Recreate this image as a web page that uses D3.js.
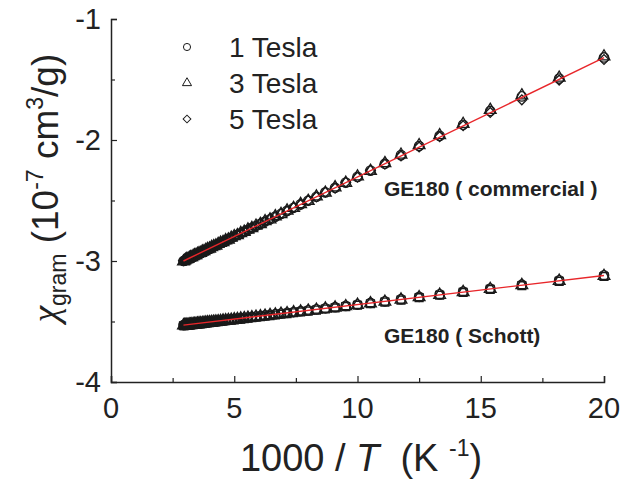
<!DOCTYPE html>
<html>
<head>
<meta charset="utf-8">
<script src="https://cdn.jsdelivr.net/npm/d3@7"></script>
<style>
  body { margin: 0; background: #fff; }
  text { font-family: "Liberation Sans", Arial, sans-serif; fill: #222; }
</style>
</head>
<body>
<div id="chart"></div>
<script>
// temperatures (K) of the measurement points, x = 1000 / T
var tempK = [340,335,330,325,320,315,310,305,300,295,290,285,280,275,270,265,260,255,250,245,
  240,235,230,225,220,215,210,205,200,195,190,185,180,175,170,165,160,155,150,145,
  140,135,130,125,120,115,110,105,100,95,90,85,80,75,70,65,60,55,50];

// GE180 (commercial), chi in 1e-7 cm3/g
var commercial1T = [-3.000,-2.996,-2.992,-2.987,-2.982,-2.977,-2.972,-2.967,-2.962,-2.956,
  -2.950,-2.944,-2.938,-2.932,-2.925,-2.918,-2.911,-2.904,-2.896,-2.888,
  -2.880,-2.871,-2.862,-2.852,-2.842,-2.832,-2.821,-2.810,-2.798,-2.785,
  -2.772,-2.758,-2.743,-2.727,-2.711,-2.693,-2.674,-2.655,-2.633,-2.611,
  -2.586,-2.560,-2.532,-2.502,-2.469,-2.433,-2.395,-2.352,-2.305,-2.253,
  -2.196,-2.125,-2.050,-1.966,-1.874,-1.760,-1.640,-1.492,-1.318];
var commercial3T = [-3.004,-2.998,-2.990,-2.985,-2.984,-2.975,-2.970,-2.969,-2.960,-2.954,
  -2.952,-2.942,-2.936,-2.934,-2.923,-2.920,-2.909,-2.902,-2.898,-2.886,
  -2.878,-2.873,-2.860,-2.850,-2.844,-2.830,-2.823,-2.808,-2.796,-2.787,
  -2.770,-2.760,-2.741,-2.729,-2.709,-2.695,-2.672,-2.657,-2.631,-2.613,
  -2.584,-2.562,-2.530,-2.504,-2.467,-2.436,-2.392,-2.355,-2.302,-2.256,
  -2.192,-2.122,-2.044,-1.961,-1.868,-1.752,-1.632,-1.486,-1.310];
var commercial5T = [-2.998,-2.993,-2.994,-2.989,-2.980,-2.979,-2.974,-2.965,-2.964,-2.958,
  -2.948,-2.946,-2.940,-2.930,-2.927,-2.916,-2.913,-2.906,-2.894,-2.890,
  -2.882,-2.869,-2.864,-2.854,-2.840,-2.834,-2.819,-2.812,-2.800,-2.783,
  -2.774,-2.756,-2.745,-2.725,-2.713,-2.691,-2.676,-2.653,-2.635,-2.609,
  -2.588,-2.558,-2.534,-2.500,-2.471,-2.431,-2.398,-2.350,-2.308,-2.250,
  -2.200,-2.132,-2.058,-1.972,-1.882,-1.772,-1.668,-1.505,-1.335];

// GE180 (Schott)
var schott1T = [-3.529,-3.528,-3.527,-3.526,-3.525,-3.524,-3.523,-3.521,-3.520,-3.519,
  -3.517,-3.516,-3.514,-3.513,-3.511,-3.509,-3.508,-3.506,-3.504,-3.502,
  -3.500,-3.498,-3.496,-3.493,-3.491,-3.488,-3.486,-3.483,-3.480,-3.477,
  -3.474,-3.470,-3.467,-3.463,-3.459,-3.455,-3.450,-3.445,-3.440,-3.434,
  -3.429,-3.422,-3.415,-3.408,-3.400,-3.391,-3.382,-3.371,-3.360,-3.347,
  -3.333,-3.316,-3.296,-3.276,-3.253,-3.228,-3.196,-3.160,-3.118];
var schott3T = [-3.532,-3.530,-3.529,-3.528,-3.527,-3.526,-3.525,-3.524,-3.522,-3.521,
  -3.520,-3.518,-3.516,-3.515,-3.513,-3.512,-3.510,-3.508,-3.506,-3.504,
  -3.502,-3.500,-3.498,-3.496,-3.493,-3.491,-3.488,-3.486,-3.483,-3.480,
  -3.477,-3.473,-3.470,-3.466,-3.462,-3.458,-3.453,-3.448,-3.443,-3.437,
  -3.432,-3.425,-3.418,-3.411,-3.403,-3.394,-3.385,-3.374,-3.363,-3.350,
  -3.337,-3.320,-3.300,-3.280,-3.257,-3.232,-3.200,-3.165,-3.124];
var schott5T = [-3.535,-3.534,-3.533,-3.532,-3.531,-3.530,-3.529,-3.527,-3.526,-3.525,
  -3.523,-3.522,-3.520,-3.519,-3.517,-3.515,-3.514,-3.512,-3.510,-3.508,
  -3.506,-3.504,-3.502,-3.499,-3.497,-3.494,-3.492,-3.489,-3.486,-3.483,
  -3.480,-3.476,-3.473,-3.469,-3.465,-3.461,-3.456,-3.451,-3.446,-3.440,
  -3.435,-3.428,-3.421,-3.414,-3.406,-3.397,-3.388,-3.377,-3.366,-3.353,
  -3.340,-3.323,-3.303,-3.283,-3.260,-3.235,-3.204,-3.168,-3.128];

// linear fits (end points, x = 1000/T)
var commercialFit = [[2.94, -3.00], [20, -1.32]];
var schottFit = [[2.94, -3.53], [20, -3.12]];

var xTicks = [0, 5, 10, 15, 20];
var yTicks = [-1, -2, -3, -4];
var legendLabels = ["1 Tesla", "3 Tesla", "5 Tesla"];

var width = 642, height = 479;
var svg = d3.select("#chart").append("svg")
  .attr("width", width).attr("height", height);

var x = d3.scaleLinear().domain([0, 20]).range([111, 604]);
var y = d3.scaleLinear().domain([-4, -1]).range([382, 19]);

// axes (ticks inward)
var xAxis = d3.axisBottom(x).tickValues(d3.range(0, 20.1, 2.5)).tickSize(-6).tickFormat("");
var gx = svg.append("g").attr("transform", "translate(0," + y(-4) + ")").call(xAxis);
gx.selectAll(".tick line").attr("y2", (d) => d % 5 === 0 ? -6 : -4);

var yAxis = d3.axisLeft(y).tickValues(d3.range(-4, -0.9, 0.5)).tickSize(-6).tickFormat("");
var gy = svg.append("g").attr("transform", "translate(" + x(0) + ",0)").call(yAxis);
gy.selectAll(".tick line").attr("x2", (d) => d % 1 === 0 ? 6 : 4);

svg.selectAll(".domain").attr("stroke", "#222").attr("stroke-width", 1.5);
svg.selectAll(".tick line").attr("stroke", "#222").attr("stroke-width", 1.2);

svg.selectAll(".xlab").data(xTicks).enter().append("text")
  .attr("x", (d) => x(d)).attr("y", 418)
  .attr("text-anchor", "middle").style("font-size", "29px")
  .text((d) => d);

svg.selectAll(".ylab").data(yTicks).enter().append("text")
  .attr("x", 101).attr("y", (d) => y(d) + 10)
  .attr("text-anchor", "end").style("font-size", "29px")
  .text((d) => d);

// markers
var circle = d3.symbol().type(d3.symbolCircle).size(70);
var tri = d3.symbol().type(d3.symbolTriangle).size(60);
var diamond = d3.symbol().type(d3.symbolSquare).size(48);
var square = d3.symbol().type(d3.symbolSquare).size(62);

function drawSeries(values, sym, rotate) {
  svg.append("g").selectAll("path").data(values).enter().append("path")
    .attr("d", sym)
    .attr("transform", (d, i) => "translate(" + x(1000 / tempK[i]) + "," + y(d) + ")" + (rotate ? " rotate(45)" : ""))
    .attr("fill", "none").attr("stroke", "#1a1a1a").attr("stroke-width", 1.3);
}

drawSeries(commercial1T, circle, false);
drawSeries(commercial3T, tri, false);
drawSeries(commercial5T, diamond, true);
drawSeries(schott5T, square, false);
drawSeries(schott3T, tri, false);
drawSeries(schott1T, circle, false);

var line = d3.line().x((d) => x(d[0])).y((d) => y(d[1]));
[commercialFit, schottFit].forEach(function (fit) {
  svg.append("path").attr("d", line(fit))
    .attr("fill", "none").attr("stroke", "#e8262a").attr("stroke-width", 1.4);
});

// legend
var legendSyms = [d3.symbol().type(d3.symbolCircle).size(40), d3.symbol().type(d3.symbolTriangle).size(36), d3.symbol().type(d3.symbolSquare).size(30)];
legendLabels.forEach(function (lab, i) {
  var ly = 47 + i * 36;
  svg.append("path").attr("d", legendSyms[i])
    .attr("transform", "translate(187," + ly + ")" + (i === 2 ? " rotate(45)" : ""))
    .attr("fill", "none").attr("stroke", "#1a1a1a").attr("stroke-width", 1);
  svg.append("text").attr("x", 229).attr("y", ly + 10)
    .style("font-size", "28px").text(lab);
});

// sample labels
svg.append("text").attr("x", 384).attr("y", 196)
  .style("font-size", "21px").style("font-weight", "bold").text("GE180 ( commercial )");
svg.append("text").attr("x", 384).attr("y", 343)
  .style("font-size", "21px").style("font-weight", "bold").text("GE180 ( Schott)");

// axis titles
var xt = svg.append("text").attr("x", 361).attr("y", 471)
  .attr("text-anchor", "middle").style("font-size", "38px");
xt.append("tspan").text("1000 / ");
xt.append("tspan").style("font-style", "italic").text("T");
xt.append("tspan").text("\u00a0 (K ");
xt.append("tspan").attr("dy", -15).style("font-size", "23px").text("-1");
xt.append("tspan").attr("dy", 15).text(")");

var yt = svg.append("text")
  .attr("transform", "translate(58,188) rotate(-90)")
  .attr("text-anchor", "middle").style("font-size", "37px");
yt.append("tspan").style("font-family", "'Liberation Serif', serif").style("font-style", "italic").text("\u03c7");
yt.append("tspan").attr("dy", 8).style("font-size", "23px").text("gram");
yt.append("tspan").attr("dy", -8).text(" (10");
yt.append("tspan").attr("dy", -15).style("font-size", "23px").text("-7");
yt.append("tspan").attr("dy", 15).text(" cm");
yt.append("tspan").attr("dy", -15).style("font-size", "23px").text("3");
yt.append("tspan").attr("dy", 15).text("/g)");
</script>
</body>
</html>
